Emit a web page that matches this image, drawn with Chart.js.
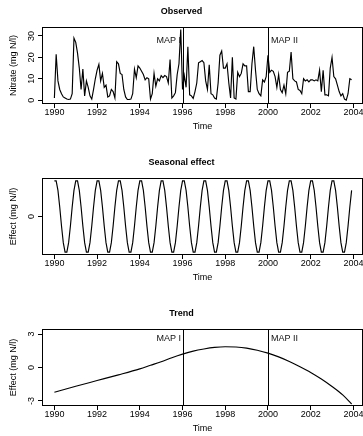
<!DOCTYPE html>
<html>
<head>
<meta charset="utf-8">
<script src="https://cdn.jsdelivr.net/npm/chart.js@4.4.1/dist/chart.umd.min.js"></script>
<style>
  html, body { margin: 0; padding: 0; background: #fff; overflow: hidden; }
  body { width: 363px; height: 436px; position: relative; }
  canvas { position: absolute; left: 0; }
</style>
</head>
<body>
<canvas id="obsChart" width="363" height="151" style="top:0"></canvas>
<canvas id="seasChart" width="363" height="151" style="top:151px"></canvas>
<canvas id="trendChart" width="363" height="151" style="top:302px"></canvas>
<script>
// monthly nitrate, Jan 1990 .. Dec 2003 (one row per year)
const nitrate = [
  1, 21.5, 9, 5, 3, 1.5, 1, 0.5, 0.3, 0.5, 3, 29,
  27, 22, 15, 5, 14.5, 2, 9, 6, 2, 0.5, 5, 10,
  14, 16.7, 9, 12.5, 6, 7, 1.5, 2, 5, 4, 1, 18,
  17, 12.5, 12, 5, 1.5, 0.3, 0.3, 0.5, 3, 14.5, 10.5, 16,
  15, 13.5, 12, 9.5, 10.5, 10, 0.5, 3, 12.5, 6.5, 10, 9,
  11.5, 10.5, 11.5, 11, 8, 19, 1, 2, 3.5, 12, 17, 33,
  5, 11.5, 6, 25, 2.5, 2, 0.8, 4, 8, 17.5, 18, 18.5,
  17.5, 9, 5, 16.5, 3, 2.5, 1, 0.5, 8, 21, 23, 15,
  15, 17, 8, 1, 20, 1, 0.5, 13, 11, 12.5, 17, 16,
  16, 4, 4, 17, 25, 14, 5, 3, 2, 9.5, 8.5, 11,
  21, 13, 14, 13.5, 11, 6, 12, 5, 3.5, 7, 3, 13,
  13.5, 22.5, 10, 9, 8.5, 5, 4.5, 3, 10, 9, 9.5, 8.5,
  9.5, 9.5, 9, 9.5, 9, 14, 4, 14, 2.5, 2.5, 2, 15,
  20, 11, 10, 7, 4, 2, 3, 0.5, 0, 3, 10, 9.5
];

// seasonal effect, same months
const seasonal = [
  6, 6, 4.4, 1.6, -1.6, -4.4, -6, -6, -4.4, -1.6, 1.6, 4.4,
  6, 6, 4.4, 1.6, -1.6, -4.4, -6, -6, -4.4, -1.6, 1.6, 4.4,
  6, 6, 4.4, 1.6, -1.6, -4.4, -6, -6, -4.4, -1.6, 1.6, 4.4,
  6, 6, 4.4, 1.6, -1.6, -4.4, -6, -6, -4.4, -1.6, 1.6, 4.4,
  6, 6, 4.4, 1.6, -1.6, -4.4, -6, -6, -4.4, -1.6, 1.6, 4.4,
  6, 6, 4.4, 1.6, -1.6, -4.4, -6, -6, -4.4, -1.6, 1.6, 4.4,
  6, 6, 4.4, 1.6, -1.6, -4.4, -6, -6, -4.4, -1.6, 1.6, 4.4,
  6, 6, 4.4, 1.6, -1.6, -4.4, -6, -6, -4.4, -1.6, 1.6, 4.4,
  6, 6, 4.4, 1.6, -1.6, -4.4, -6, -6, -4.4, -1.6, 1.6, 4.4,
  6, 6, 4.4, 1.6, -1.6, -4.4, -6, -6, -4.4, -1.6, 1.6, 4.4,
  6, 6, 4.4, 1.6, -1.6, -4.4, -6, -6, -4.4, -1.6, 1.6, 4.4,
  6, 6, 4.4, 1.6, -1.6, -4.4, -6, -6, -4.4, -1.6, 1.6, 4.4,
  6, 6, 4.4, 1.6, -1.6, -4.4, -6, -6, -4.4, -1.6, 1.6, 4.4,
  6, 6, 4.4, 1.6, -1.6, -4.4, -6, -6, -4.4, -1.6, 1.6, 4.4
];

// trend, read at half-year steps
const trendTime = [1990, 1991, 1992, 1993, 1994, 1994.5, 1995, 1995.5, 1996, 1996.5, 1997, 1997.5,
  1998, 1998.5, 1999, 1999.5, 2000, 2000.5, 2001, 2001.5, 2002, 2002.5, 2003, 2003.5, 2003.917];
const trend = [-2.22, -1.68, -1.17, -0.66, -0.12, 0.2, 0.52, 0.88, 1.2, 1.47, 1.66, 1.8,
  1.86, 1.84, 1.74, 1.55, 1.29, 0.95, 0.54, 0.07, -0.44, -1.03, -1.7, -2.45, -3.27];

const xTicks = [1990, 1992, 1994, 1996, 1998, 2000, 2002, 2004];
const obsTicks = [0, 10, 20, 30];
const seasTicks = [0];
const trendTicks = [-3, 0, 3];

const mapYears = [1996, 2000];
const mapLabels = ['MAP I', 'MAP II'];

const months = nitrate.map((v, i) => 1990 + i / 12);

const FONT = "'Liberation Sans', Arial, Helvetica, sans-serif";
Chart.defaults.font.family = FONT;
Chart.defaults.font.size = 9;
Chart.defaults.color = '#000';

// R style frame round the plot region
const boxPlugin = {
  id: 'box',
  afterDraw(chart) {
    const a = chart.chartArea;
    const ctx = chart.ctx;
    ctx.save();
    ctx.strokeStyle = '#000';
    ctx.lineWidth = 1;
    ctx.strokeRect(a.left + 0.5, a.top + 0.5, a.right - a.left - 1, a.bottom - a.top - 1);
    ctx.restore();
  }
};

// vertical MAP lines with their labels
function mapPlugin(labelY) {
  return {
    id: 'mapLines',
    afterDatasetsDraw(chart) {
      const a = chart.chartArea;
      const ctx = chart.ctx;
      const xs = chart.scales.x, ys = chart.scales.y;
      ctx.save();
      ctx.strokeStyle = '#000';
      ctx.lineWidth = 1;
      ctx.fillStyle = '#111';
      ctx.font = '9px ' + FONT;
      ctx.textBaseline = 'middle';
      mapYears.forEach((yr, i) => {
        const x = Math.round(xs.getPixelForValue(yr)) + 0.5;
        ctx.beginPath();
        ctx.moveTo(x, a.top);
        ctx.lineTo(x, a.bottom);
        ctx.stroke();
        const ty = ys.getPixelForValue(labelY);
        if (i === 0) {
          ctx.textAlign = 'right';
          ctx.fillText(mapLabels[i], x - 2.5, ty);
        } else {
          ctx.textAlign = 'left';
          ctx.fillText(mapLabels[i], x + 2.5, ty);
        }
      });
      ctx.restore();
    }
  };
}

function makePanel(id, o) {
  const plugins = [boxPlugin];
  if (o.mapY !== undefined) plugins.push(mapPlugin(o.mapY));
  return new Chart(document.getElementById(id), {
    type: 'line',
    data: {
      datasets: [{
        data: o.xs.map((x, i) => ({ x: x, y: o.ys[i] })),
        borderColor: '#000',
        borderWidth: 1.15,
        pointRadius: 0,
        tension: 0,
        cubicInterpolationMode: o.smooth ? 'monotone' : 'default',
        fill: false
      }]
    },
    options: {
      responsive: false,
      animation: false,
      events: [],
      layout: { padding: 0 },
      plugins: {
        legend: { display: false },
        tooltip: { enabled: false },
        title: {
          display: true,
          text: o.title,
          color: '#000',
          font: { size: 9, weight: 'bold' },
          padding: { top: 6, bottom: 10.2 }
        }
      },
      scales: {
        x: {
          type: 'linear',
          min: 1989.42,
          max: 2004.45,
          afterBuildTicks: s => { s.ticks = xTicks.map(v => ({ value: v })); },
          afterFit: s => { s.height = 47; s.paddingLeft = 0; s.paddingRight = 0; },
          grid: { display: true, drawOnChartArea: false, drawTicks: true, tickLength: 4, color: '#000' },
          border: { display: false },
          ticks: { autoSkip: false, maxRotation: 0, padding: -1, color: '#000', callback: v => String(v) },
          title: { display: true, text: 'Time', color: '#000', padding: { top: 0, bottom: 19 } }
        },
        y: {
          type: 'linear',
          min: o.ymin,
          max: o.ymax,
          afterBuildTicks: s => { s.ticks = o.yTicks.map(v => ({ value: v })); },
          afterFit: s => { s.width = 42; s.paddingTop = 0; s.paddingBottom = 0; },
          grid: { display: true, drawOnChartArea: false, drawTicks: true, tickLength: 4, color: '#000' },
          border: { display: false },
          ticks: { minRotation: 90, maxRotation: 90, crossAlign: 'center', padding: o.yPad, color: '#000',
            callback: v => String(v) },
          title: { display: true, text: o.yTitle, color: '#000', padding: { top: 8, bottom: 0 } }
        }
      }
    },
    plugins: plugins
  });
}

makePanel('obsChart', {
  title: 'Observed', yTitle: 'Nitrate (mg N/l)',
  xs: months, ys: nitrate, ymin: -1.8, ymax: 34.2, yTicks: obsTicks, yPad: 1, mapY: 28
});
makePanel('seasChart', {
  title: 'Seasonal effect', yTitle: 'Effect (mg N/l)',
  xs: months, ys: seasonal, ymin: -6.48, ymax: 6.48, yTicks: seasTicks, yPad: 3.5
});
makePanel('trendChart', {
  title: 'Trend', yTitle: 'Effect (mg N/l)',
  xs: trendTime, ys: trend, ymin: -3.45, ymax: 3.45, yTicks: trendTicks, yPad: 2, mapY: 2.6, smooth: true
});
</script>
</body>
</html>
